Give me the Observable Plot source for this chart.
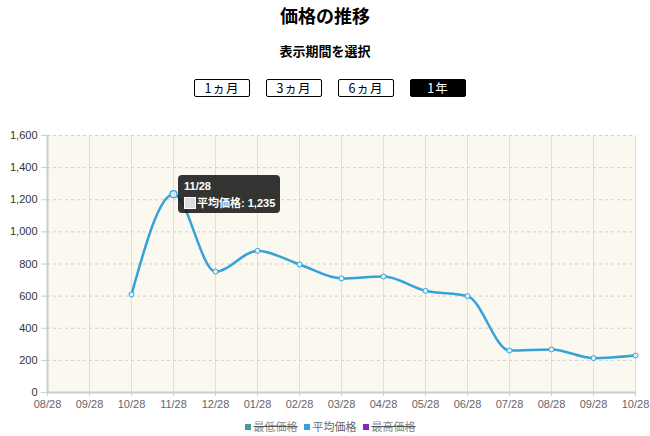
<!DOCTYPE html>
<html><head><meta charset="utf-8">
<script src="https://cdn.jsdelivr.net/npm/d3@7"></script>
<script src="https://cdn.jsdelivr.net/npm/@observablehq/plot@0.6"></script>
<style>
body{margin:0;width:650px;height:436px;position:relative;font-family:"Noto Sans CJK JP","Noto Sans",sans-serif;background:#fff;overflow:hidden;color:#000}
#title{position:absolute;top:2px;left:0;width:650px;text-align:center;font-size:18px;font-weight:bold;line-height:26px}
#sub{position:absolute;top:41px;left:0;width:650px;text-align:center;font-size:13px;font-weight:bold;line-height:20px}
#btns{position:absolute;top:79px;left:194px;display:flex;gap:16px}
.b{width:54px;height:16px;border:1px solid #000;border-radius:2px;font-size:12.5px;line-height:16px;text-align:center;background:#fff;color:#000;letter-spacing:1px}
.b.on{background:#000;color:#fff}
#chart{position:absolute;top:120px;left:0}
#legend{position:absolute;top:418px;left:0;width:650px;display:flex;justify-content:center;gap:6px;font-size:11px;color:#666;line-height:16px;padding-left:10px;box-sizing:border-box}
#legend span.sw{display:inline-block;width:6px;height:6px;margin-right:3px;vertical-align:1px}
#legend .off{text-decoration:line-through;text-decoration-thickness:1px;text-decoration-color:#555;color:#888}
#tip{position:absolute;background:rgba(30,30,30,0.9);border-radius:4px;color:#fff;font-family:"Liberation Sans","Noto Sans CJK JP",sans-serif;font-size:11px;font-weight:bold;padding:4px 5px 4px 6px;box-sizing:border-box;white-space:nowrap}
#tip .sq{display:inline-block;width:10px;height:10px;background:#ddd;border:1px solid #fff;vertical-align:-2px;margin-right:1px}
</style></head>
<body>
<div id="title">価格の推移</div>
<div id="sub">表示期間を選択</div>
<div id="btns"></div>
<div id="chart"></div>
<div id="legend"></div>
<script>
const periods = ["1ヵ月","3ヵ月","6ヵ月","1年"];
const activePeriod = "1年";
const monthLabels = ["08/28","09/28","10/28","11/28","12/28","01/28","02/28","03/28","04/28","05/28","06/28","07/28","08/28","09/28","10/28"];
const avgPrice = [null,null,610,1235,753,882,797,710,722,633,600,261,268,214,230];
const yTicks = [0,200,400,600,800,1000,1200,1400,1600];
const seriesNames = ["最低価格","平均価格","最高価格"];
const seriesColors = ["#3f9c9a","#35a2d8","#8a1fc2"];
const seriesVisible = [false,true,false];
const tipIndex = 3;

const btns = document.getElementById("btns");
periods.forEach(p=>{const d=document.createElement("div");d.className="b"+(p===activePeriod?" on":"");d.textContent=p;btns.appendChild(d);});

const data = monthLabels.map((m,i)=>({i, m, v: avgPrice[i]}));
const pts = data.filter(d=>d.v!=null);
const blue = seriesColors[1];

const chart = Plot.plot({
  width:650, height:295,
  marginLeft:47, marginRight:15, marginTop:15, marginBottom:23,
  style:{fontFamily:"'Liberation Sans',Arial,sans-serif", fontSize:"11px", background:"transparent"},
  x:{domain:[0,monthLabels.length-1]},
  y:{domain:[0,1600]},
  marks:[
    Plot.frame({fill:"#faf8ef", stroke:null}),
    Plot.ruleX(d3.range(monthLabels.length),{stroke:"#e2dfd6", strokeWidth:1}),
    Plot.ruleY(yTicks.filter(t=>t>0),{stroke:"#cfcfcf", strokeDasharray:"3,3"}),
    Plot.axisY({ticks:yTicks, tickFormat:d=>d3.format(",")(d), tickSize:6, tickPadding:4, stroke:"#ccc", color:"#333", label:null}),
    Plot.axisX({ticks:d3.range(monthLabels.length), tickFormat:i=>monthLabels[i], tickSize:4, tickPadding:4, stroke:"#ccc", color:"#666", label:null}),
    Plot.ruleX([0],{stroke:"#ccc", strokeWidth:2}),
    Plot.ruleY([0],{stroke:"#ccc", strokeWidth:2}),
    Plot.line(pts,{x:"i", y:"v", stroke:blue, strokeWidth:2.5, curve:"monotone-x"}),
    Plot.dot(pts,{x:"i", y:"v", r:2.5, stroke:blue, strokeWidth:1, fill:"#e3f1f9"}),
    Plot.dot(pts.filter(d=>d.i===tipIndex),{x:"i", y:"v", r:3.5, stroke:blue, strokeWidth:1.2, fill:"#cfe8f5"})
  ]
});
document.getElementById("chart").appendChild(chart);

const legend = document.getElementById("legend");
seriesNames.forEach((n,k)=>{
  const s=document.createElement("div");
  s.innerHTML=`<span class="sw" style="background:${seriesColors[k]}"></span><span class="${seriesVisible[k]?"":"off"}">${n}</span>`;
  legend.appendChild(s);
});

const px = chart.scale("x").apply(tipIndex);
const py = chart.scale("y").apply(avgPrice[tipIndex]) + 120;
const tip = document.createElement("div");
tip.id="tip";
tip.style.left=(px+5)+"px";
tip.style.top=(py-19)+"px";
tip.style.height="38px";
tip.innerHTML=`<div style="line-height:14px">${monthLabels[tipIndex]}</div><div style="line-height:16px;margin-top:2px"><span class="sq"></span>${seriesNames[1]}: ${d3.format(",")(avgPrice[tipIndex])}</div>`;
document.body.appendChild(tip);
</script>
</body></html>
